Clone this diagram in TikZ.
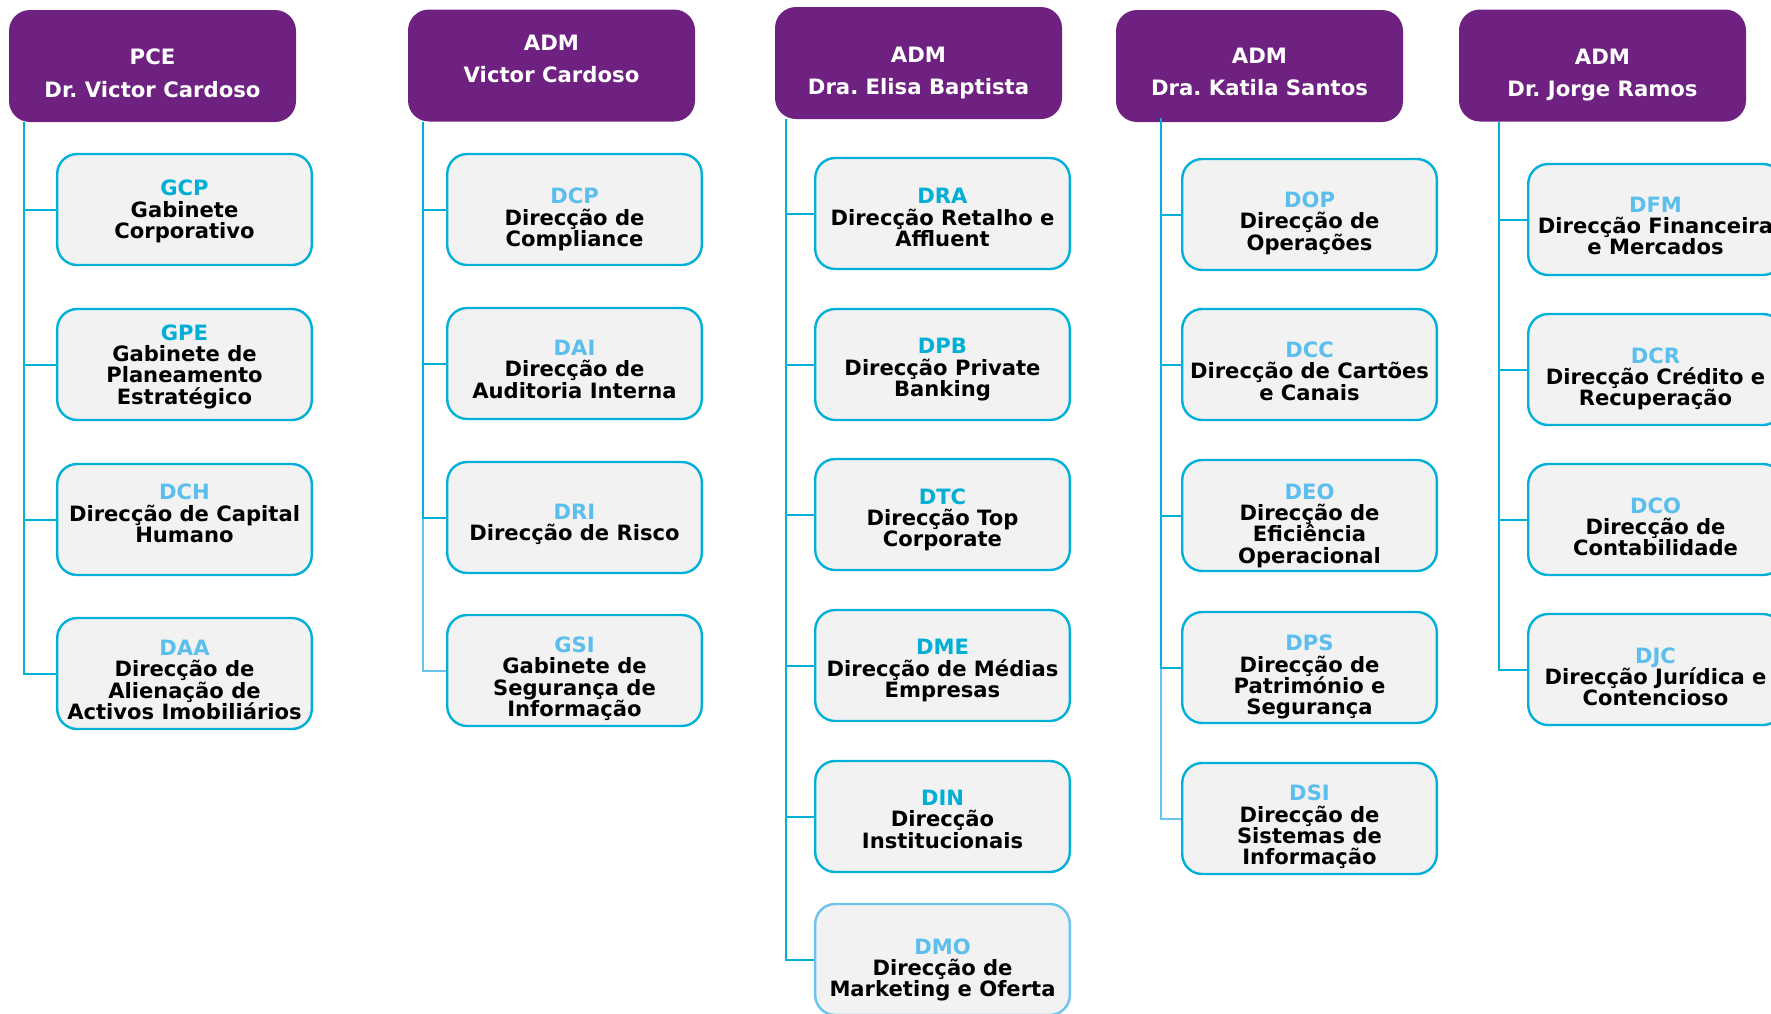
\documentclass[tikz,border=0pt]{standalone}
\usepackage{fontspec}
\setmainfont{DejaVu Sans}
\frenchspacing
\definecolor{hpurple}{RGB}{110,33,128}
\definecolor{bcyan}{RGB}{0,176,216}
\definecolor{adark}{RGB}{0,174,214}
\definecolor{alight}{RGB}{91,190,237}
\definecolor{lcyan}{RGB}{105,196,238}
\definecolor{boxfill}{RGB}{242,242,242}
\tikzset{
  hdrbox/.style={rectangle, rounded corners=21pt, fill=hpurple, draw=none,
    minimum width=287pt, minimum height=112pt, inner sep=0pt},
  hdrtext/.style={anchor=north, inner sep=0pt, align=center, text=white,
    font=\bfseries\fontsize{21.2}{32.3}\selectfont},
  unitbox/.style={rectangle, rounded corners=20pt, fill=boxfill, draw=bcyan,
    line width=2.4pt, minimum width=254.6pt, minimum height=111pt, inner sep=0pt},
  unittext/.style={anchor=north, inner sep=0pt, align=center, text=black,
    font=\bfseries\fontsize{21.1}{21.3}\selectfont},
  link/.style={draw=bcyan, line width=2pt},
  linklight/.style={draw=lcyan, line width=2pt},
}
\newcommand{\orgunit}[8][]{%
  \node[unitbox,#1] (#2) at ({#3},{#4+56.5}) {};
  \node[unittext] (#2t) at ({#3},{#5}) {\textcolor{#6}{#7}\\#8};
}
\begin{document}
\begin{tikzpicture}[x=1pt,y=-1pt]
\clip (0,0) rectangle (1771,1013);
\fill[white] (0,0) rectangle (1771,1013);

% headers
\node[hdrbox] (h1) at (152.5,66) {};
\node[hdrtext] (h1t) at (152.5,49) {PCE\\Dr. Victor Cardoso};
\node[hdrbox] (h2) at (551.5,65.5) {};
\node[hdrtext] (h2t) at (551.5,34.7) {ADM\\Victor Cardoso};
\node[hdrbox] (h3) at (918.5,63) {};
\node[hdrtext] (h3t) at (918.5,46.4) {ADM\\Dra. Elisa Baptista};
\node[hdrbox] (h4) at (1259.5,66) {};
\node[hdrtext] (h4t) at (1259.5,48) {ADM\\Dra. Katila Santos};
\node[hdrbox] (h5) at (1602.5,65.5) {};
\node[hdrtext] (h5t) at (1602.5,49) {ADM\\Dr. Jorge Ramos};

% column 1
\orgunit{c11}{184.5}{153}{180}{adark}{GCP}{Gabinete\\Corporativo}
\orgunit{c12}{184.5}{308}{324.5}{adark}{GPE}{Gabinete de\\Planeamento\\Estratégico}
\orgunit{c13}{184.5}{463}{484}{alight}{DCH}{Direcção de Capital\\Humano}
\orgunit{c14}{184.5}{617}{640}{alight}{DAA}{Direcção de\\Alienação de\\Activos Imobiliários}

% column 2
\orgunit{c21}{574.5}{153}{188}{alight}{DCP}{Direcção de\\Compliance}
\orgunit{c22}{574.5}{307}{340}{alight}{DAI}{Direcção de\\Auditoria Interna}
\orgunit{c23}{574.5}{461}{504}{alight}{DRI}{Direcção de Risco}
\orgunit{c24}{574.5}{614}{636.7}{alight}{GSI}{Gabinete de\\Segurança de\\Informação}

% column 3
\orgunit{c31}{942.5}{157}{188.3}{adark}{DRA}{Direcção Retalho e\\Affluent}
\orgunit{c32}{942.5}{308}{338.3}{adark}{DPB}{Direcção Private\\Banking}
\orgunit{c33}{942.5}{458}{488.3}{adark}{DTC}{Direcção Top\\Corporate}
\orgunit{c34}{942.5}{609}{639.3}{adark}{DME}{Direcção de Médias\\Empresas}
\orgunit{c35}{942.5}{760}{790}{adark}{DIN}{Direcção\\Institucionais}
\orgunit[draw=lcyan]{c36}{942.5}{903}{938.3}{alight}{DMO}{Direcção de\\Marketing e Oferta}

% column 4
\orgunit{c41}{1309.5}{158}{191.7}{alight}{DOP}{Direcção de\\Operações}
\orgunit{c42}{1309.5}{308}{341.7}{alight}{DCC}{Direcção de Cartões\\e Canais}
\orgunit{c43}{1309.5}{459}{483.3}{alight}{DEO}{Direcção de\\Eficiência\\Operacional}
\orgunit{c44}{1309.5}{611}{635}{alight}{DPS}{Direcção de\\Património e\\Segurança}
\orgunit{c45}{1309.5}{762}{785}{alight}{DSI}{Direcção de\\Sistemas de\\Informação}

% column 5
\orgunit{c51}{1655.5}{163}{196.7}{alight}{DFM}{Direcção Financeira\\e Mercados}
\orgunit{c52}{1655.5}{313}{347.3}{alight}{DCR}{Direcção Crédito e\\Recuperação}
\orgunit{c53}{1655.5}{463}{497.3}{alight}{DCO}{Direcção de\\Contabilidade}
\orgunit{c54}{1655.5}{613}{647.3}{alight}{DJC}{Direcção Jurídica e\\Contencioso}

% connectors (farthest first)
\draw[link] ([xshift=15pt]h1.south west) |- (c14.west);
\draw[link] ([xshift=15pt]h1.south west) |- (c13.west);
\draw[link] ([xshift=15pt]h1.south west) |- (c12.west);
\draw[link] ([xshift=15pt]h1.south west) |- (c11.west);

\draw[linklight] ([xshift=15pt]h2.south west) |- (c24.west);
\draw[link] ([xshift=15pt]h2.south west) |- (c23.west);
\draw[link] ([xshift=15pt]h2.south west) |- (c22.west);
\draw[link] ([xshift=15pt]h2.south west) |- (c21.west);

\draw[link] ([xshift=11pt]h3.south west) |- (c36.west);
\draw[link] ([xshift=11pt]h3.south west) |- (c35.west);
\draw[link] ([xshift=11pt]h3.south west) |- (c34.west);
\draw[link] ([xshift=11pt]h3.south west) |- (c33.west);
\draw[link] ([xshift=11pt]h3.south west) |- (c32.west);
\draw[link] ([xshift=11pt]h3.south west) |- (c31.west);

\draw[linklight] ([xshift=45pt,yshift=4pt]h4.south west) |- (c45.west);
\draw[link] ([xshift=45pt,yshift=4pt]h4.south west) |- (c44.west);
\draw[link] ([xshift=45pt,yshift=4pt]h4.south west) |- (c43.west);
\draw[link] ([xshift=45pt,yshift=4pt]h4.south west) |- (c42.west);
\draw[link] ([xshift=45pt,yshift=4pt]h4.south west) |- (c41.west);

\draw[link] ([xshift=40pt]h5.south west) |- (c54.west);
\draw[link] ([xshift=40pt]h5.south west) |- (c53.west);
\draw[link] ([xshift=40pt]h5.south west) |- (c52.west);
\draw[link] ([xshift=40pt]h5.south west) |- (c51.west);
\end{tikzpicture}
\end{document}
